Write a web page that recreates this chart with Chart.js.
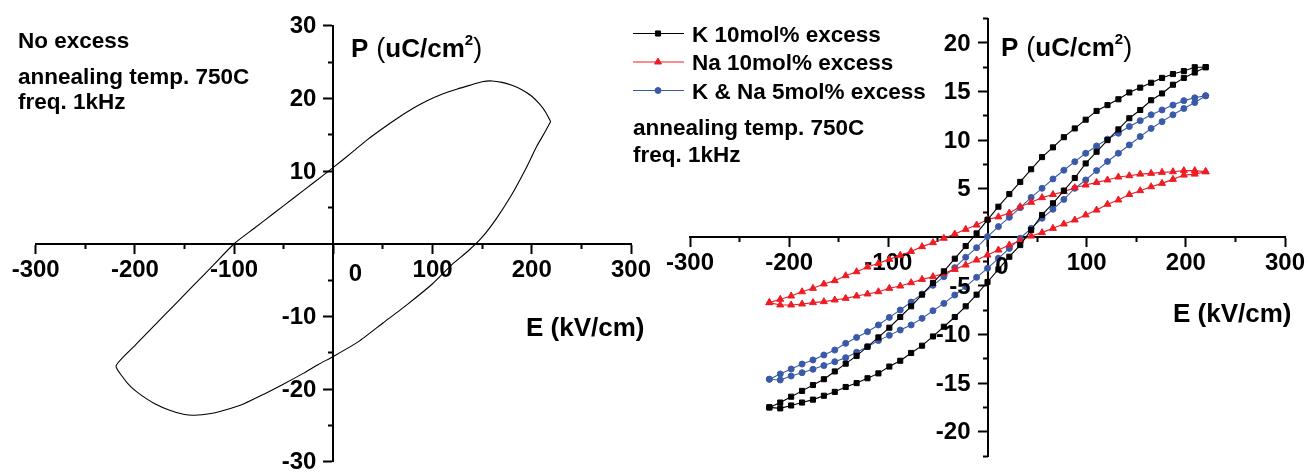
<!DOCTYPE html>
<html>
<head>
<meta charset="utf-8">
<script src="https://cdn.jsdelivr.net/npm/chart.js@4.4.1/dist/chart.umd.min.js"></script>
<style>
  html, body { margin: 0; padding: 0; background: #fff; }
  #wrap { position: relative; width: 1310px; height: 472px; overflow: hidden; background: #fff; }
  #wrap canvas { position: absolute; left: 0; top: 0; }
</style>
</head>
<body>
<div id="wrap">
  <canvas id="noExcess" width="1310" height="472"></canvas>
  <canvas id="excess" width="1310" height="472"></canvas>
</div>
<script>
const FONT = '"Liberation Sans", Arial, Helvetica, sans-serif';

// P-E loop of the film without excess, traced from the positive field tip
const noExcessE = [219, 214, 208, 200, 190, 180, 170, 160, 150, 140, 125, 110, 95, 80, 65, 50, 35, 20, 0,
  -20, -40, -60, -80, -100, -120, -140, -160, -180, -200, -219,
  -212, -204, -193, -180, -165, -150, -140, -125, -110, -90, -70, -50, -30, -15, 0,
  25, 50, 75, 100, 120, 135, 150, 165, 180, 195, 205, 213, 219];
const noExcessP = [16.8, 18.1, 19.2, 20.3, 21.2, 21.8, 22.2, 22.4, 22.3, 21.9, 21.3, 20.6, 19.7, 18.6, 17.3, 15.9, 14.4, 12.7, 10.5,
  8.4, 6.3, 4.2, 2.1, 0, -2.8, -5.6, -8.4, -11.2, -14.0, -16.8,
  -18.4, -19.7, -20.9, -22.0, -22.9, -23.5, -23.6, -23.4, -22.9, -22.0, -20.7, -19.3, -17.8, -16.6, -15.5,
  -13.5, -10.9, -8.3, -5.5, -2.8, -1.1, 0.9, 3.6, 6.8, 10.6, 13.4, 15.3, 16.8];

// field sweep of the excess samples (kV/cm)
const fieldUp = [-220, -209, -198, -187, -176, -165, -154, -143, -132, -121, -110, -99, -88, -77, -66, -55, -44, -33, -22, -11, 0,
  11, 22, 33, 44, 55, 66, 77, 88, 99, 110, 121, 132, 143, 154, 165, 176, 187, 198, 209, 220];
const fieldDown = [220, 209, 198, 187, 176, 165, 154, 143, 132, 121, 110, 99, 88, 77, 66, 55, 44, 33, 22, 11, 0,
  -11, -22, -33, -44, -55, -66, -77, -88, -99, -110, -121, -132, -143, -154, -165, -176, -187, -198, -209, -220];

// K 10mol% excess
const kRising = [-17.5, -17.6, -17.3, -17.0, -16.7, -16.3, -15.9, -15.4, -15.0, -14.5, -14.0, -13.3, -12.7, -11.9, -11.15, -10.2, -9.2, -8.2, -7.1, -5.9, -4.6,
  -3.3, -2.0, -0.8, 0.75, 2.3, 3.5, 4.8, 6.1, 7.6, 8.8, 10.0, 11.1, 12.25, 13.1, 14.1, 14.8, 15.7, 16.4, 16.95, 17.5];
const kFalling = [17.5, 17.5, 17.1, 16.8, 16.4, 15.9, 15.4, 14.9, 14.2, 13.6, 13.0, 12.1, 11.2, 10.3, 9.25, 8.25, 7.0, 5.7, 4.45, 3.15, 1.8,
  0.4, -0.9, -2.2, -3.5, -4.7, -5.9, -7.1, -8.2, -9.3, -10.3, -11.25, -12.2, -13.0, -13.8, -14.6, -15.2, -15.8, -16.4, -17.0, -17.5];

// Na 10mol% excess
const naRising = [-6.72, -6.96, -6.96, -6.86, -6.72, -6.62, -6.45, -6.28, -6.04, -5.83, -5.6, -5.25, -5.01, -4.67, -4.33, -4.05, -3.71, -3.3, -2.85, -2.34, -1.82,
  -1.31, -0.79, -0.35, 0.13, 0.48, 0.92, 1.37, 1.78, 2.3, 2.8, 3.4, 3.84, 4.4, 4.8, 5.2, 5.55, 5.96, 6.4, 6.5, 6.75];
const naFalling = [6.75, 6.86, 6.86, 6.75, 6.68, 6.58, 6.5, 6.34, 6.2, 5.9, 5.65, 5.38, 5.1, 4.7, 4.4, 4.08, 3.6, 3.15, 2.5, 2.1, 1.84,
  1.26, 0.82, 0.34, -0.1, -0.55, -0.96, -1.45, -1.85, -2.27, -2.68, -3.05, -3.54, -3.95, -4.46, -4.8, -5.25, -5.6, -6.04, -6.38, -6.72];

// K & Na 5mol% excess
const kNaRising = [-14.6, -14.68, -14.27, -13.93, -13.58, -13.2, -12.8, -12.38, -11.83, -11.25, -10.63, -10.09, -9.54, -9.02, -8.34, -7.55, -6.8, -5.94, -5.08, -4.12, -3.19,
  -2.16, -1.14, -0.1, 0.92, 1.96, 2.88, 3.9, 5.04, 5.9, 6.86, 7.8, 8.65, 9.5, 10.36, 11.2, 11.9, 12.6, 13.25, 13.86, 14.55];
const kNaFalling = [14.57, 14.35, 14.06, 13.6, 13.1, 12.6, 12.0, 11.4, 10.7, 10.1, 9.4, 8.64, 7.78, 6.9, 6.0, 5.04, 4.1, 3.05, 2.05, 1.1, 0.07,
  -1.07, -2.06, -3.12, -4.05, -4.94, -5.83, -6.66, -7.48, -8.24, -9.02, -9.71, -10.3, -10.91, -11.6, -12.11, -12.62, -13.04, -13.55, -14.06, -14.6];

const seriesNames = ['K 10mol% excess', 'Na 10mol% excess', 'K & Na 5mol% excess'];
const seriesColors = ['#000000', '#ee1c25', '#3a5aa8'];
const seriesMarkers = ['rect', 'triangle', 'circle'];
const seriesMarkerRadius = [3.6, 4, 3];

// axis ticks
const fieldMajorTicks = [-300, -200, -100, 0, 100, 200, 300];
const fieldMinorTicks = [-250, -150, -50, 50, 150, 250];
const leftPMajorTicks = [-30, -20, -10, 10, 20, 30];
const leftPMinorTicks = [-25, -15, -5, 5, 15, 25];
const rightPMajorTicks = [-20, -15, -10, -5, 5, 10, 15, 20];
const rightPMinorTicks = [-22.5, -17.5, -12.5, -7.5, -2.5, 2.5, 7.5, 12.5, 17.5, 22.5];

const infoLines = ['annealing temp. 750C', 'freq. 1kHz'];

const TICK_SIZE = 24;
const bold = s => `bold ${s}px ${FONT}`;
const plain = s => `${s}px ${FONT}`;

function richText(ctx, x, y, parts) {
  let cx = x;
  parts.forEach(p => {
    ctx.font = p.font;
    ctx.fillText(p.text, cx, y + (p.dy || 0));
    cx += ctx.measureText(p.text).width + (p.after || 0);
  });
}
function polarisationTitle(ctx, x, y) {
  richText(ctx, x, y, [
    {text: 'P', font: bold(26), after: 8},
    {text: '(', font: plain(27)},
    {text: 'uC/cm', font: bold(26)},
    {text: '2', font: bold(15), dy: -12},
    {text: ')', font: plain(27)}
  ]);
}
function fieldTitle(ctx, x, y) {
  ctx.font = bold(26);
  ctx.fillText('E (kV/cm)', x, y);
}

// P tick labels sit left of the vertical axis, which crosses at E = 0
function drawPTickLabels(chart, values) {
  const ctx = chart.ctx;
  const xAxis = chart.scales.x;
  const yAxis = chart.scales.y;
  const right = xAxis.getPixelForValue(0) - 1 - 9 - 7;
  ctx.font = bold(TICK_SIZE);
  ctx.textAlign = 'right';
  ctx.textBaseline = 'middle';
  values.forEach(v => ctx.fillText(String(v), right, yAxis.getPixelForValue(v) + 1));
}

function tickList(values) {
  return scale => { scale.ticks = values.map(v => ({value: v})); };
}
const tickFont = {family: FONT, size: TICK_SIZE, weight: 'bold'};

function buildScales(xMin, xMax, yMin, yMax, yMajor, yMinor) {
  return {
    x: {
      type: 'linear', min: xMin, max: xMax, position: {y: 0},
      afterBuildTicks: tickList(fieldMajorTicks),
      border: {display: true, color: '#000', width: 2},
      grid: {drawOnChartArea: false, drawTicks: true, tickLength: 9, tickWidth: 2, tickColor: '#000'},
      ticks: {autoSkip: false, maxRotation: 0, color: '#000', padding: 3, font: tickFont,
        callback: v => (v === 0 ? '' : String(v))}
    },
    xMinor: {
      type: 'linear', axis: 'x', min: xMin, max: xMax, position: {y: 0},
      afterBuildTicks: tickList(fieldMinorTicks),
      border: {display: false},
      grid: {drawOnChartArea: false, drawTicks: true, tickLength: 5, tickWidth: 2, tickColor: '#000'},
      ticks: {autoSkip: false, maxRotation: 0, callback: () => ''}
    },
    y: {
      type: 'linear', min: yMin, max: yMax, position: {x: 0},
      afterBuildTicks: tickList(yMajor),
      border: {display: true, color: '#000', width: 2},
      grid: {drawOnChartArea: false, drawTicks: true, tickLength: 9, tickWidth: 2, tickColor: '#000'},
      ticks: {autoSkip: false, callback: () => ''}
    },
    yMinor: {
      type: 'linear', axis: 'y', min: yMin, max: yMax, position: {x: 0},
      afterBuildTicks: tickList(yMinor),
      border: {display: false},
      grid: {drawOnChartArea: false, drawTicks: true, tickLength: 5, tickWidth: 2, tickColor: '#000'},
      ticks: {autoSkip: false, callback: () => ''}
    }
  };
}

// left panel: no excess
const noExcessText = {
  id: 'noExcessText',
  afterDraw(chart) {
    const ctx = chart.ctx;
    ctx.save();
    ctx.fillStyle = '#000';
    drawPTickLabels(chart, leftPMajorTicks);
    ctx.textAlign = 'left';
    ctx.textBaseline = 'alphabetic';
    ctx.font = bold(22.5);
    ctx.fillText('No excess', 18, 48);
    ctx.fillText(infoLines[0], 18, 84);
    ctx.fillText(infoLines[1], 18, 109);
    polarisationTitle(ctx, 351, 57);
    fieldTitle(ctx, 526, 336);
    ctx.font = bold(TICK_SIZE);
    ctx.textAlign = 'center';
    ctx.textBaseline = 'middle';
    ctx.fillText('0', chart.scales.x.getPixelForValue(0) + 22, chart.scales.y.getPixelForValue(0) + 31);
    ctx.restore();
  }
};

new Chart(document.getElementById('noExcess'), {
  type: 'scatter',
  data: {
    datasets: [{
      label: 'No excess',
      data: noExcessE.map((e, i) => ({x: e, y: noExcessP[i]})),
      showLine: true,
      borderColor: '#000',
      borderWidth: 1.1,
      pointRadius: 0,
      tension: 0.2
    }]
  },
  options: {
    responsive: false,
    animation: false,
    devicePixelRatio: 1,
    layout: {padding: {left: 35.7, right: 679, top: 25.7, bottom: 9.3}},
    plugins: {legend: {display: false}, title: {display: false}, tooltip: {enabled: false}},
    scales: buildScales(-300, 300, -30, 30, leftPMajorTicks, leftPMinorTicks)
  },
  plugins: [noExcessText]
});

// right panel: excess samples
function loopPoints(rising, falling) {
  const pts = fieldUp.map((e, i) => ({x: e, y: rising[i]}));
  fieldDown.forEach((e, i) => pts.push({x: e, y: falling[i]}));
  return pts;
}
const excessLoops = [[kRising, kFalling], [naRising, naFalling], [kNaRising, kNaFalling]];

const excessText = {
  id: 'excessText',
  afterDraw(chart) {
    const ctx = chart.ctx;
    ctx.save();
    ctx.fillStyle = '#000';
    drawPTickLabels(chart, rightPMajorTicks);
    ctx.textAlign = 'left';
    ctx.textBaseline = 'alphabetic';
    chart.data.datasets.forEach((ds, i) => {
      const y = 33.5 + i * 28.5;
      ctx.strokeStyle = ds.borderColor;
      ctx.lineWidth = 1.2;
      ctx.beginPath();
      ctx.moveTo(633, y);
      ctx.lineTo(684, y);
      ctx.stroke();
      ctx.fillStyle = ds.backgroundColor;
      ctx.lineWidth = 1;
      Chart.helpers.drawPoint(ctx, {pointStyle: ds.pointStyle, radius: ds.pointRadius, borderWidth: 1, rotation: 0}, 658, y);
      ctx.fillStyle = '#000';
      ctx.font = bold(22.5);
      ctx.fillText(ds.label, 692, y + 8);
    });
    ctx.font = bold(22.5);
    ctx.fillText(infoLines[0], 633, 135);
    ctx.fillText(infoLines[1], 633, 162);
    polarisationTitle(ctx, 1001, 56);
    fieldTitle(ctx, 1173, 322);
    ctx.font = bold(TICK_SIZE);
    ctx.textAlign = 'center';
    ctx.textBaseline = 'middle';
    ctx.fillText('0', chart.scales.x.getPixelForValue(0) + 14.5, chart.scales.y.getPixelForValue(0) + 30);
    ctx.restore();
  }
};

new Chart(document.getElementById('excess'), {
  type: 'scatter',
  data: {
    datasets: excessLoops.map((loop, i) => ({
      label: seriesNames[i],
      data: loopPoints(loop[0], loop[1]),
      showLine: true,
      borderColor: seriesColors[i],
      backgroundColor: seriesColors[i],
      borderWidth: 1.1,
      pointStyle: seriesMarkers[i],
      pointRadius: seriesMarkerRadius[i],
      pointBorderWidth: 1,
      pointBackgroundColor: seriesColors[i],
      pointBorderColor: seriesColors[i]
    }))
  },
  options: {
    responsive: false,
    animation: false,
    devicePixelRatio: 1,
    layout: {padding: {left: 690, right: 25, top: 18.6, bottom: 16}},
    plugins: {legend: {display: false}, title: {display: false}, tooltip: {enabled: false}},
    scales: buildScales(-300, 300, -22.5, 22.5, rightPMajorTicks, rightPMinorTicks)
  },
  plugins: [excessText]
});
</script>
</body>
</html>
